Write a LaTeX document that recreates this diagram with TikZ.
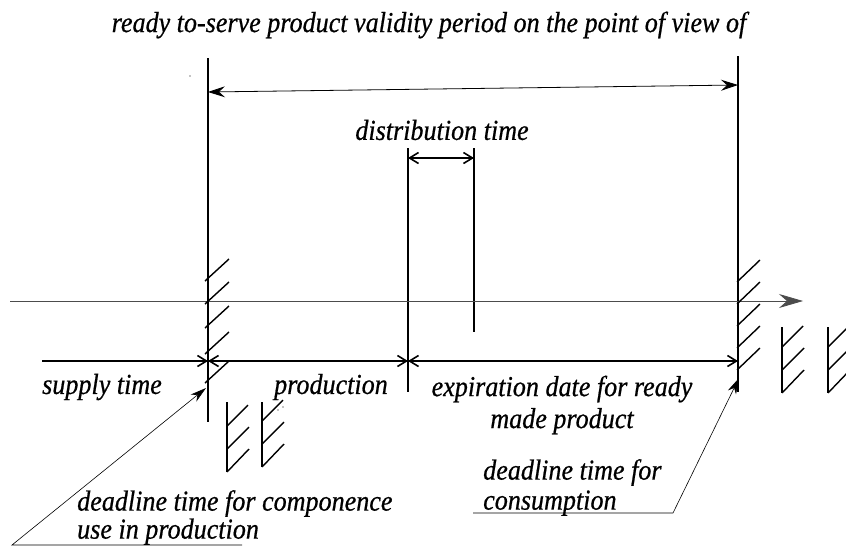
\documentclass[tikz,border=0pt]{standalone}
\usepackage{fontspec}
\newfontfamily\lblfont{Liberation Serif Italic}[FakeStretch=0.9, FakeBold=0.6]
\usetikzlibrary{arrows.meta,calc,positioning}
\tikzset{lbl/.style={font=\lblfont\fontsize{29}{30}\selectfont, inner sep=0pt}}
\tikzset{bar/.style={line width=1.6pt}}
\tikzset{dimarr/.style={line width=1.6pt, {Straight Barb[length=9pt,width=11pt]}-{Straight Barb[length=9pt,width=11pt]}}}
\tikzset{lead/.style={line width=0.6pt, -{Stealth[length=16pt,width=9pt,inset=5pt]}}}
\tikzset{hatch/.style={line width=1.4pt}}

\begin{document}
\begin{tikzpicture}[x=1pt,y=-1pt]
\useasboundingbox (0,0) rectangle (846,547);

% time marks
\coordinate (lt) at (208,58);
\coordinate (lb) at (208,422);
\coordinate (rt) at (738,56);
\coordinate (rb) at (738,392);
\coordinate (dlt) at (408,148);
\coordinate (dlb) at (408,392);
\coordinate (drt) at (474,148);
\coordinate (drb) at (474,332);
\draw[bar] (lt) -- (lb);
\draw[bar] (rt) -- (rb);
\draw[bar] (dlt) -- (dlb);
\draw[bar] (drt) -- (drb);

% time axis
\coordinate (ax0) at (10,301);
\coordinate (ax1) at (803,301);
\draw[line width=0.8pt, draw=black!70, -{Stealth[length=24pt,width=14pt,inset=8pt]}] (ax0) -- (ax1);

% periods
\coordinate (ta1) at (208,92);
\coordinate (ta2) at (738,85);
\coordinate (da1) at (408,158);
\coordinate (da2) at (474,158);
\coordinate (s0) at (42,361);
\coordinate (p0) at (208,361);
\coordinate (p1) at (408,361);
\coordinate (e1) at (738,361);
\draw[line width=0.8pt, {Stealth[length=17pt,width=11pt,inset=6pt]}-{Stealth[length=17pt,width=11pt,inset=6pt]}] (ta1) -- (ta2);
\draw[dimarr] (da1) -- (da2);
\draw[bar, -{Straight Barb[length=9pt,width=11pt]}] (s0) -- (p0);
\draw[dimarr] (p0) -- (p1);
\draw[dimarr] (p1) -- (e1);

% hatching on the deadlines
\foreach \y in {281,304,328,354,383}
  \draw[hatch] (205,\y) -- ++(24,-22);
\foreach \y in {282,304,326,348,370}
  \draw[hatch] (737,\y) -- ++(23,-22);

% stock symbols
\foreach \x/\t/\b in {227/402/472, 262/402/467, 782/327/393, 828/327/393} {
  \draw[hatch] (\x,\t) -- (\x,\b);
  \draw[hatch] (\x,\b) -- ++(22,-23) (\x,\b-23) -- ++(22,-22) (\x,\b-46) -- ++(21,-21);
}
\fill (190,76) circle (0.6pt);
\fill (278,410) circle (0.6pt) (283,407) circle (0.6pt);

% labels
\node[lbl] (title) at (429,25) {ready to-serve product validity period on the point of view of};
\node[lbl] (dist) at (442,130) {distribution time};
\node[lbl, anchor=west] (supply) at (42,387) {supply time};
\node[lbl] (prod) at (331,387) {production};
\node[lbl, align=center, font=\lblfont\fontsize{29}{32}\selectfont] (expir) at (562,405) {expiration date for ready\\made product};
\node[lbl, align=left, anchor=north west] (cons) at (483,459) {deadline time for\\consumption};
\node[lbl, align=left, anchor=north west, font=\lblfont\fontsize{29}{28}\selectfont] (comp) at (77,490) {deadline time for componence\\use in production};

% leaders
\coordinate (c0) at (473,513);
\coordinate (c1) at (673,513);
\coordinate (ctip) at (739,378);
\draw[lead] (c0) -- (c1) -- (ctip);
\coordinate (u0) at (242,545);
\coordinate (u1) at (12,545);
\coordinate (utip) at (206,388);
\draw[lead] (u0) -- (u1) -- (utip);
\end{tikzpicture}
\end{document}
